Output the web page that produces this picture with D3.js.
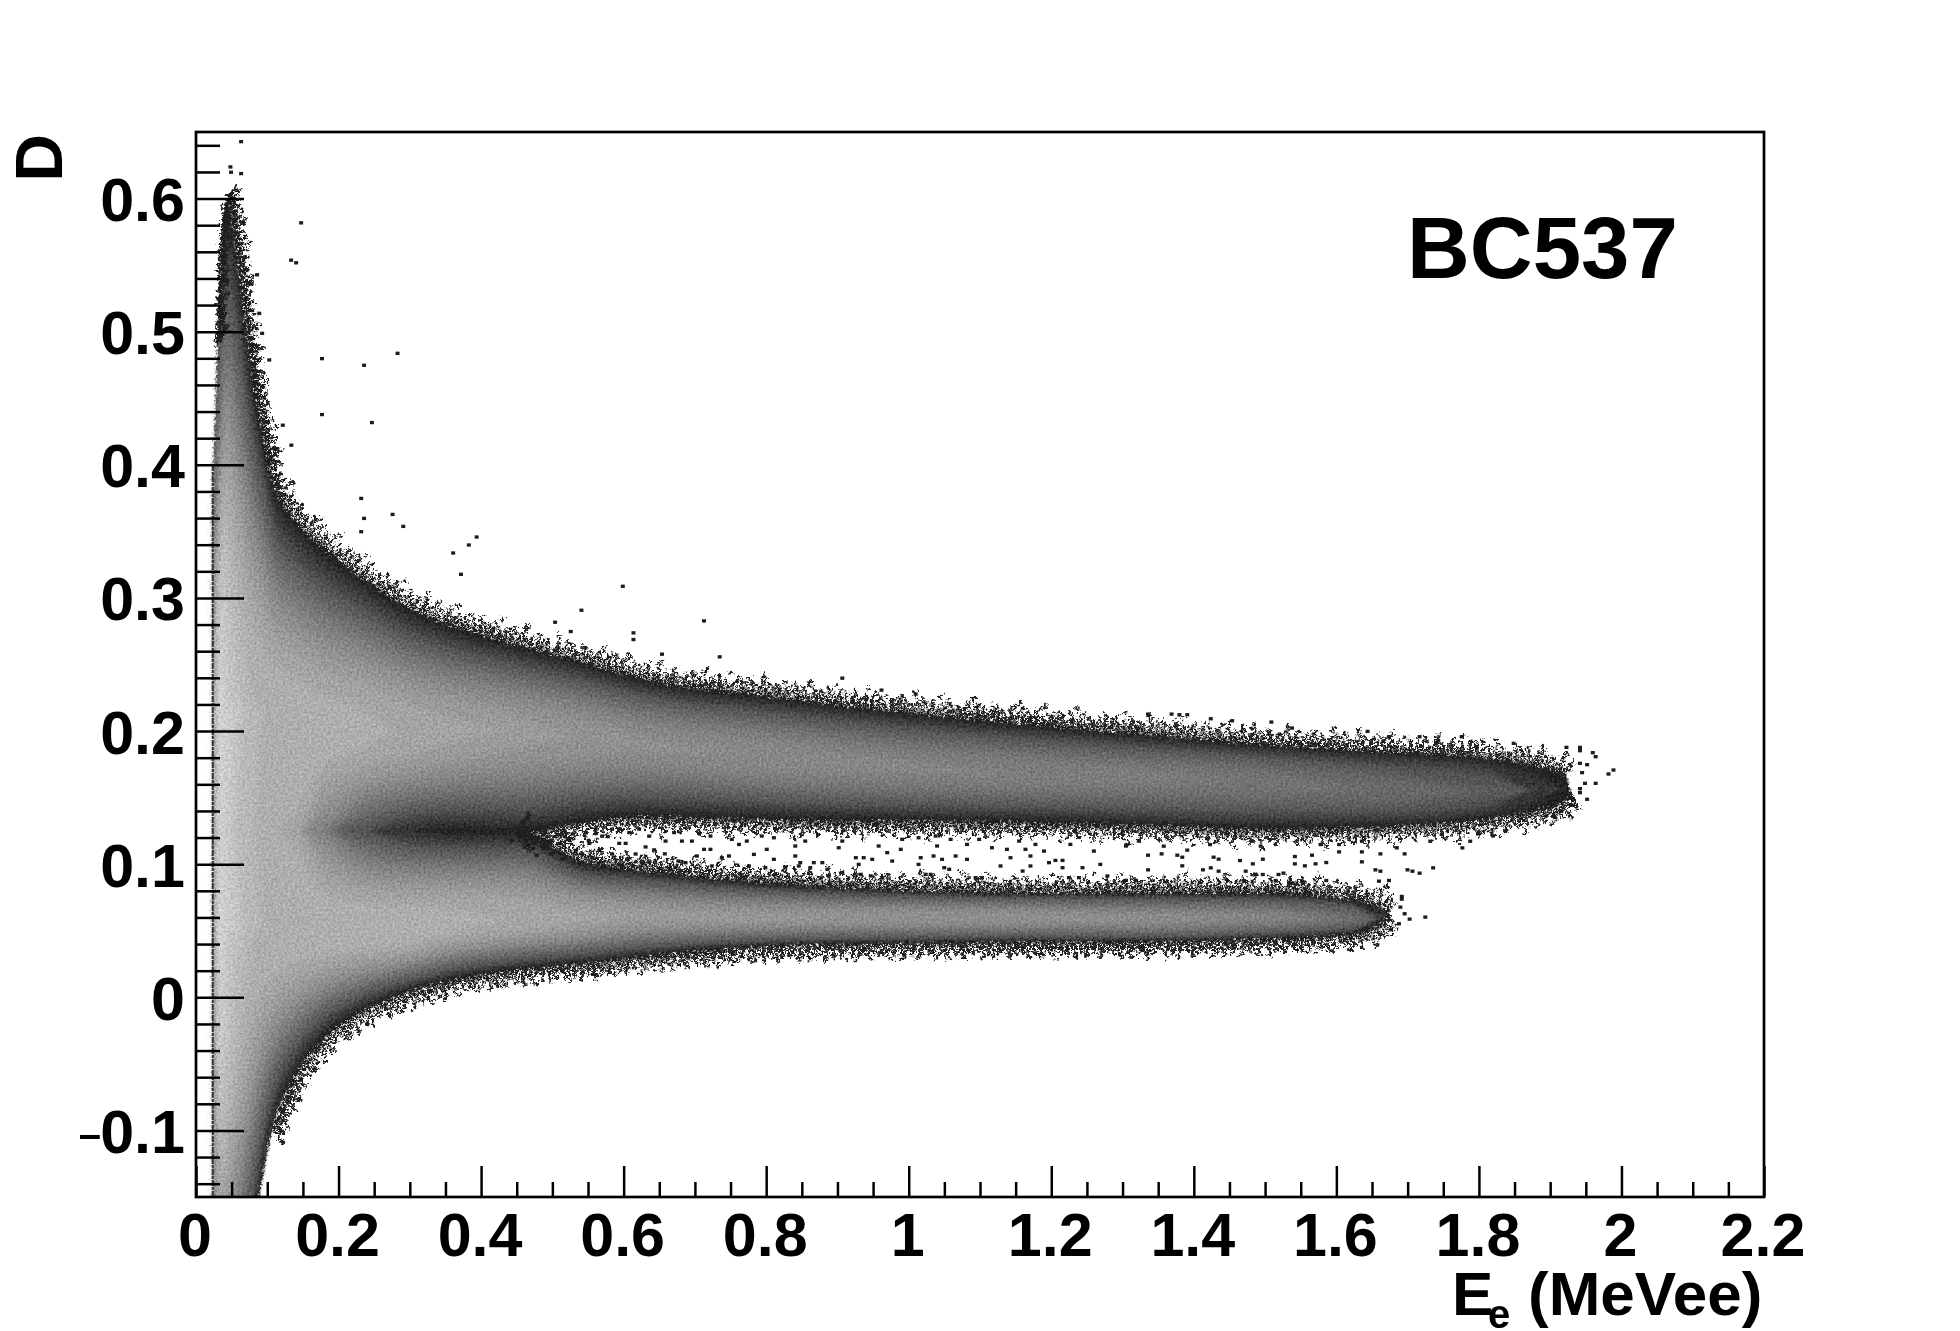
<!DOCTYPE html>
<html>
<head>
<meta charset="utf-8">
<script src="https://cdn.jsdelivr.net/npm/d3@7"></script>
<style>
  html, body { margin: 0; background: #fff; }
  text { font-family: "Liberation Sans", Arial, sans-serif; font-weight: bold; fill: #000; }
</style>
</head>
<body>
<div id="chart"></div>
<script>
let w = 1960
let h = 1331

// ---------------- axes -------------------- //
let xMajor = [0, 0.2, 0.4, 0.6, 0.8, 1, 1.2, 1.4, 1.6, 1.8, 2, 2.2];
let xLabels = ["0", "0.2", "0.4", "0.6", "0.8", "1", "1.2", "1.4", "1.6", "1.8", "2", "2.2"];
let xMinor = [0.05, 0.1, 0.15, 0.25, 0.3, 0.35, 0.45, 0.5, 0.55, 0.65, 0.7, 0.75, 0.85, 0.9, 0.95, 1.05, 1.1, 1.15, 1.25, 1.3, 1.35, 1.45, 1.5, 1.55, 1.65, 1.7, 1.75, 1.85, 1.9, 1.95, 2.05, 2.1, 2.15];
let yMajor = [-0.1, 0, 0.1, 0.2, 0.3, 0.4, 0.5, 0.6];
let yLabels = ["0.1", "0", "0.1", "0.2", "0.3", "0.4", "0.5", "0.6"];
let yMinor = [-0.14, -0.12, -0.08, -0.06, -0.04, -0.02, 0.02, 0.04, 0.06, 0.08, 0.12, 0.14, 0.16, 0.18, 0.22, 0.24, 0.26, 0.28, 0.32, 0.34, 0.36, 0.38, 0.42, 0.44, 0.46, 0.48, 0.52, 0.54, 0.56, 0.58, 0.62, 0.64];

// ---------------- upper band, read at stations of Ee -------------------- //
let upE    = [.024, .03, .038, .045, .055, .069, .08, .094, .108, .141, .178, .226, .29, .356, .45, .543, .623, .81, 1.0, 1.18, 1.325, 1.483, 1.671, 1.811, 1.881, 1.923, 1.928];
let upTop  = [.39, .49, .585, .60, .57, .51, .465, .425, .388, .358, .338, .318, .295, .28, .265, .252, .24, .226, .214, .205, .198, .191, .185, .18, .174, .166, .156];
let upMid  = [.22, .22, .22, .22, .22, .22, .22, .22, .21, .205, .2, .2, .2, .2, .2, .196, .191, .181, .173, .168, .166, .163, .156, .155, .156, .157, .157];
let upBot  = [.124, .124, .124, .124, .124, .124, .124, .124, .124, .124, .124, .124, .124, .124, .123, .131, .135, .133, .132, .131, .129, .126, .128, .134, .14, .148, .156];
let upGray = [214, 216, 212, 204, 195, 188, 184, 182, 182, 182, 180, 178, 172, 166, 158, 152, 146, 142, 136, 132, 128, 122, 112, 95, 60, 36, 34];
let ridgeGray = [214, 216, 212, 204, 195, 188, 184, 182, 178, 170, 130, 85, 50, 34, 34, 34, 34, 34, 34, 34, 34, 34, 34, 34, 34, 34, 34];

// ---------------- lower band -------------------- //
let lowE    = [.024, .03, .038, .045, .055, .069, .08, .094, .108, .141, .178, .226, .29, .356, .45, .543, .623, .81, 1.0, 1.18, 1.325, 1.483, 1.62, 1.66, 1.675];
let lowTop  = [.126, .126, .126, .126, .126, .126, .126, .126, .126, .126, .126, .126, .126, .126, .125, .102, .096, .086, .081, .079, .079, .079, .074, .068, .062];
let lowMid  = [.05, .05, .05, .05, .05, .05, .05, .05, .05, .05, .05, .05, .05, .055, .058, .06, .061, .06, .06, .06, .059, .06, .059, .06, .062];
let lowBot  = [-.35, -.35, -.35, -.34, -.30, -.24, -.19, -.135, -.1, -.058, -.032, -.013, .002, .012, .02, .025, .03, .038, .04, .041, .041, .043, .047, .054, .062];
let lowGray = [214, 216, 212, 204, 195, 188, 184, 182, 182, 182, 182, 182, 182, 178, 172, 166, 158, 155, 152, 150, 146, 138, 116, 55, 34];

// gray steps drawn from the outer edge inwards
let darkLevels = [34, 44, 54, 64, 74, 84];
let coreLevels = [94, 104, 114, 124, 134, 144, 154, 164, 174, 184, 194, 204, 214];

// ---------------- isolated entries -------------------- //
let binE = 0.0056
let binD = 0.0025
let strayE = [.0605, .0455, .0464, .0605, .1447, .1307, .1377, .0829, .075, .086, .09, .1, .174, .233, .28, .174, .244, .119, .131, .229, .273, .233, .288, .229, .391, .38, .358, .369, .596, .538, .611, .611, .501, .523,
  .71, .651, .732, .904, .959, 1.007,
  1.333, 1.366, 1.377, 1.388, 1.421, 1.451, 1.506, 1.535, 1.641, 1.671, 1.714, 1.773, 1.74, 1.846, 1.92, 1.939, 1.939, 1.957, 1.961, 1.949, 1.939, 1.942, 1.986, 1.979, 1.961, 1.946, 1.939, 1.939, 1.949, 1.926, 1.913, 1.903,
  1.722, 1.7, 1.693, 1.689, 1.689, 1.687, 1.685, 1.674];
let strayD = [.644, .625, .621, .62, .583, .555, .553, .544, .537, .515, .5, .48, .481, .476, .485, .439, .433, .431, .416, .376, .364, .361, .355, .351, .347, .341, .335, .319, .31, .292, .275, .27, .283, .276,
  .284, .259, .257, .241, .232, .229,
  .214, .214, .2135, .2135, .2105, .209, .208, .2035, .201, .197, .197, .197, .194, .192, .189, .189, .1865, .185, .182, .176, .177, .17, .172, .169, .162, .162, .158, .155, .15, .146, .141, .137,
  .0615, .06, .064, .077, .075, .069, .0565, .052];

let gapE = [.656, .679, .693, .719, .749, .77, .759, .791, .808, .852, .719, .71, .745, .735, .798, .838, .838, .78, .808, .684, .674, .7, .845, .864, .876, .883, .859, .899, .904, .923, .934, .946, .927, .967, .986, .974, .955, .988, 1.011, 1.035, 1.056, 1.037, 1.032, 1.014, 1.044, 1.063, 1.079, 1.054, 1.047, 1.114, 1.135, 1.161, 1.187, 1.168, 1.126, 1.14, 1.194, 1.213, 1.203, 1.168, 1.241, 1.257, 1.266, 1.302, 1.32, 1.224, 1.175, 1.152, 1.096, 1.079, 1.213, 1.011, 1.091, 1.1, 1.302, 1.316, 1.276, 1.236, 1.222, 1.157, .96, .944, 1.021, 1.028, .904, .93, .885, .824, .843, .773, .796, .721, .67,
  1.733, 1.714, 1.704, 1.697, 1.659, 1.652, 1.671, 1.657, 1.633, 1.633, 1.659, 1.693, 1.682, 1.601, 1.583, 1.568, 1.553, 1.563, 1.539, 1.539, 1.523, 1.516, 1.494, 1.48, 1.462, 1.432, 1.425, 1.432, 1.421, 1.41, 1.381, 1.381, 1.374, 1.352, 1.333, 1.333, 1.388, 1.47, 1.484, 1.494, 1.774, 1.785, 1.817, 1.796, 1.729, 1.583, 1.549, 1.535, 1.512, 1.468, 1.355, 1.42, 1.491, 1.575, 1.601, 1.633,
  .558, .567, .581, .591, .605, .619, .633, .549, .563, .581, .6, .614, .628, .521, .53, .507, .539, .553, .591, .544,
  .44, .452, .465, .478, .49, .47, .485, .5, .515, .46, .475, .495, .512, .526, .535, .548, .562, .575, .59, .602, .64, .655, .668, .625, .61, .595, .57, .648, .662];
let gapD = [.1186, .1186, .1186, .1224, .1199, .1186, .1161, .1224, .1211, .1186, .1124, .1124, .1074, .1061, .1124, .1149, .1074, .1086, .1049, .1024, .1036, .1074, .1024, .1024, .1024, .0974, .0986, .1136, .1186, .1061, .1061, .1049, .1011, .1099, .1124, .1036, .1149, .1199, .1211, .1224, .1199, .1149, .1074, .1061, .1049, .1074, .1049, .0974, .0986, .1136, .1124, .1124, .1111, .1074, .0999, .1061, .1024, .1041, .1041, .0999, .0986, .1111, .1011, .1149, .1186, .1161, .1161, .1186, .1199, .1161, .0986, .1011, .0911, .0911, .0891, .0891, .0924, .0911, .0911, .0961, .0911, .0924, .0936, .0936, .0949, .0936, .0924, .0986, .0999, .0999, .0986, .0999, .0986,
  .0985, .0945, .096, .097, .096, .097, .089, .0885, .103, .1105, .109, .109, .1135, .1105, .1025, .1015, .1, .108, .1015, .107, .0945, .0935, .105, .1015, .104, .105, .1065, .096, .0985, .097, .1, .1065, .108, .109, .108, .097, .1118, .096, .0935, .0935, .1135, .1185, .1225, .124, .1185, .089, .0885, .087, .089, .0885, .1148, .116, .1148, .116, .116, .1185,
  .1276, .1223, .1276, .1169, .125, .1276, .1223, .1169, .1116, .1089, .1169, .1089, .1142, .1196, .1116, .1169, .1089, .1062, .1276, .125,
  .119, .122, .116, .121, .118, .113, .113, .122, .122, .119, .108, .109, .105, .124, .102, .119, .102, .122, .101, .105, .112, .109, .125, .102, .1, .1, .1, .098, .097];

// thin column of entries at the left of the spectrum
let leftColumnE = [.0235, .0235];
let leftColumnD = [-.15, .40];

// ---------------- scales and svg -------------------- //
let x = d3.scaleLinear().domain([0, 2.2]).range([196, 1764]);
let y = d3.scaleLinear().domain([-0.15, 0.65]).range([1197, 132]);

let svg = d3.select("#chart").append("svg")
  .attr("width", w)
  .attr("height", h)
  .style("display", "block");

let defs = svg.append("defs");
defs.append("clipPath").attr("id", "frame")
  .append("rect")
  .attr("x", x(0)).attr("y", y(0.65))
  .attr("width", x(2.2) - x(0)).attr("height", y(-0.15) - y(0.65));

function regionFilter(id) {
  return defs.append("filter").attr("id", id)
    .attr("filterUnits", "userSpaceOnUse")
    .attr("color-interpolation-filters", "sRGB")
    .attr("x", 190).attr("y", 125).attr("width", 1590).attr("height", 1080);
}

// grain of the histogram bins
let grain = regionFilter("grain");
grain.append("feTurbulence").attr("type", "fractalNoise").attr("baseFrequency", 0.42).attr("numOctaves", 2).attr("seed", 4).attr("result", "noise");
grain.append("feDisplacementMap").attr("in", "SourceGraphic").attr("in2", "noise").attr("scale", 7)
  .attr("xChannelSelector", "R").attr("yChannelSelector", "G").attr("result", "moved");
grain.append("feColorMatrix").attr("in", "noise").attr("type", "matrix")
  .attr("values", "0 0 0 1 0  0 0 0 1 0  0 0 0 1 0  0 0 0 0 1").attr("result", "speck");
grain.append("feComposite").attr("in", "moved").attr("in2", "speck").attr("operator", "arithmetic")
  .attr("k1", 0).attr("k2", 1).attr("k3", 0.28).attr("k4", -0.14).attr("result", "lit");
grain.append("feComposite").attr("in", "lit").attr("in2", "moved").attr("operator", "in");

let softDark = regionFilter("softDark");
softDark.append("feGaussianBlur").attr("stdDeviation", 1);
let softCore = regionFilter("softCore");
softCore.append("feGaussianBlur").attr("stdDeviation", 3.5);

// single entries are not blurred, only shaken a little
let shake = regionFilter("shake");
shake.append("feTurbulence").attr("type", "fractalNoise").attr("baseFrequency", 0.3).attr("numOctaves", 2).attr("seed", 11).attr("result", "noise");
shake.append("feDisplacementMap").attr("in", "SourceGraphic").attr("in2", "noise").attr("scale", 11)
  .attr("xChannelSelector", "R").attr("yChannelSelector", "G");

let plot = svg.append("g").attr("clip-path", "url(#frame)");
let hist = plot.append("g").attr("filter", "url(#grain)");
let darkGroup = hist.append("g").attr("filter", "url(#softDark)");
let coreGroup = hist.append("g").attr("filter", "url(#softCore)");
let fringeGroup = plot.append("g").attr("filter", "url(#shake)");

// ---------------- bands -------------------- //
function frac(g, edge, centre) {
  if (centre <= edge) return g > centre ? 1 : 0;
  let s = Math.max(0, Math.min(1, (g - edge) / (centre - edge)));
  return 1 - Math.pow(1 - s, 1 / 2.0);
}

let bandArea = d3.area()
  .x(d => x(d.e))
  .y0(d => y(d.lo))
  .y1(d => y(d.hi))
  .curve(d3.curveMonotoneX);

function drawLevel(g, target) {
  let upper = upE.map((e, i) => ({
    e: e,
    hi: upTop[i] + (upMid[i] - upTop[i]) * frac(g, 34, upGray[i]),
    lo: upBot[i] + (upMid[i] - upBot[i]) * frac(g, ridgeGray[i], upGray[i])
  }));
  let lower = lowE.map((e, i) => ({
    e: e,
    hi: lowTop[i] + (lowMid[i] - lowTop[i]) * frac(g, ridgeGray[i], lowGray[i]),
    lo: lowBot[i] + (lowMid[i] - lowBot[i]) * frac(g, 34, lowGray[i])
  }));
  let col = d3.rgb(g, g, g).toString();
  target.append("path").attr("d", bandArea(lower)).attr("fill", col);
  target.append("path").attr("d", bandArea(upper)).attr("fill", col);
}
darkLevels.forEach(g => drawLevel(g, darkGroup));
coreLevels.forEach(g => drawLevel(g, coreGroup));

// rows of single entries along the edges
let edgeLine = d3.line().x(d => x(d[0])).y(d => y(d[1])).curve(d3.curveMonotoneX);
let outerRows = [
  { off: 0, dash: "5 1 6 1" },
  { off: 3.5, dash: "4 1 5 2 6 1" },
  { off: 7, dash: "4 2 4 3 5 2" },
  { off: 10.5, dash: "4 4 4 7 4 3" },
  { off: 14, dash: "4 11 4 16 4 7" },
  { off: 18, dash: "4 29 4 43 4 21" }
];
let innerRows = outerRows.slice(0, 5).concat([
  { off: 18, dash: "4 37 4 23 4 61" }
]);
let edges = [
  { E: upE.slice(1, 26), D: upTop.slice(1, 26), side: -1, rows: outerRows },
  { E: upE.slice(14), D: upBot.slice(14), side: 1, rows: innerRows },
  { E: lowE.slice(14), D: lowTop.slice(14), side: -1, rows: innerRows },
  { E: lowE.slice(8), D: lowBot.slice(8), side: 1, rows: outerRows.slice(0, 5) }
];
edges.forEach(ed => {
  ed.rows.forEach(f => {
    fringeGroup.append("path")
      .attr("d", edgeLine(ed.E.map((e, i) => [e, ed.D[i]])))
      .attr("transform", "translate(" + (f.off * 0.6) + "," + (ed.side * f.off) + ")")
      .attr("fill", "none")
      .attr("stroke", "#1f1f1f")
      .attr("stroke-width", 3.4)
      .attr("stroke-dasharray", f.dash);
  });
});

// left column
plot.append("path")
  .attr("d", d3.line().x(d => x(d[0])).y(d => y(d[1]))(leftColumnE.map((e, i) => [e, leftColumnD[i]])))
  .attr("stroke", "#333")
  .attr("stroke-width", 2)
  .attr("stroke-dasharray", "6 1 3 1");

// isolated bins
function drawBins(Es, Ds) {
  plot.append("g").selectAll("rect")
    .data(Es.map((e, i) => [e, Ds[i]]))
    .enter()
    .append("rect")
    .attr("x", d => x(d[0]))
    .attr("y", d => y(d[1]))
    .attr("width", x(binE) - x(0))
    .attr("height", y(0) - y(binD))
    .attr("fill", "#1c1c1c");
}
drawBins(strayE, strayD);
drawBins(gapE, gapD);

// ---------------- frame and axes -------------------- //
function tickLine(g) {
  g.selectAll(".domain").remove();
  g.selectAll("line").attr("stroke", "#000").attr("stroke-width", 2.5);
}

svg.append("g").attr("transform", "translate(0," + y(-0.15) + ")")
  .call(d3.axisBottom(x).tickValues(xMinor).tickSize(-15).tickFormat(""))
  .call(tickLine);
svg.append("g").attr("transform", "translate(0," + y(-0.15) + ")")
  .call(d3.axisBottom(x).tickValues(xMajor).tickSize(-31).tickPadding(0).tickFormat((d, i) => xLabels[i]))
  .call(tickLine)
  .call(g => g.selectAll("text")
    .attr("x", -1.5).attr("y", 59).attr("dy", 0)
    .style("font-size", "61px"));

svg.append("g").attr("transform", "translate(" + x(0) + ",0)")
  .call(d3.axisLeft(y).tickValues(yMinor).tickSize(-24).tickFormat(""))
  .call(tickLine);
svg.append("g").attr("transform", "translate(" + x(0) + ",0)")
  .call(d3.axisLeft(y).tickValues(yMajor).tickSize(-48).tickPadding(0).tickFormat((d, i) => yLabels[i]))
  .call(tickLine)
  .call(g => g.selectAll("text")
    .attr("x", -11).attr("dy", 22)
    .style("font-size", "61px"));

// the minus of the negative label is short in the reference
svg.append("text")
  .attr("x", x(0) - 11 - 84)
  .attr("y", y(-0.1) + 18)
  .attr("text-anchor", "end")
  .style("font-size", "40px")
  .text("\u2013");

svg.append("rect")
  .attr("x", x(0)).attr("y", y(0.65))
  .attr("width", x(2.2) - x(0)).attr("height", y(-0.15) - y(0.65))
  .attr("fill", "none")
  .attr("stroke", "#000")
  .attr("stroke-width", 2.7);

// ---------------- titles -------------------- //
let xTitle = svg.append("text").attr("y", 1315).style("font-size", "62px");
xTitle.append("tspan").attr("x", 1452).text("E");
xTitle.append("tspan").attr("x", 1488).attr("dy", 13).style("font-size", "40px").text("e");
xTitle.append("tspan").attr("x", 1528).attr("dy", -13).text("(MeVee)");

svg.append("text")
  .attr("transform", "translate(62,134) rotate(-90)")
  .attr("text-anchor", "end")
  .style("font-size", "66px")
  .text("D");

svg.append("text")
  .attr("x", 1407)
  .attr("y", 278)
  .style("font-size", "87px")
  .text("BC537");
</script>
</body>
</html>
